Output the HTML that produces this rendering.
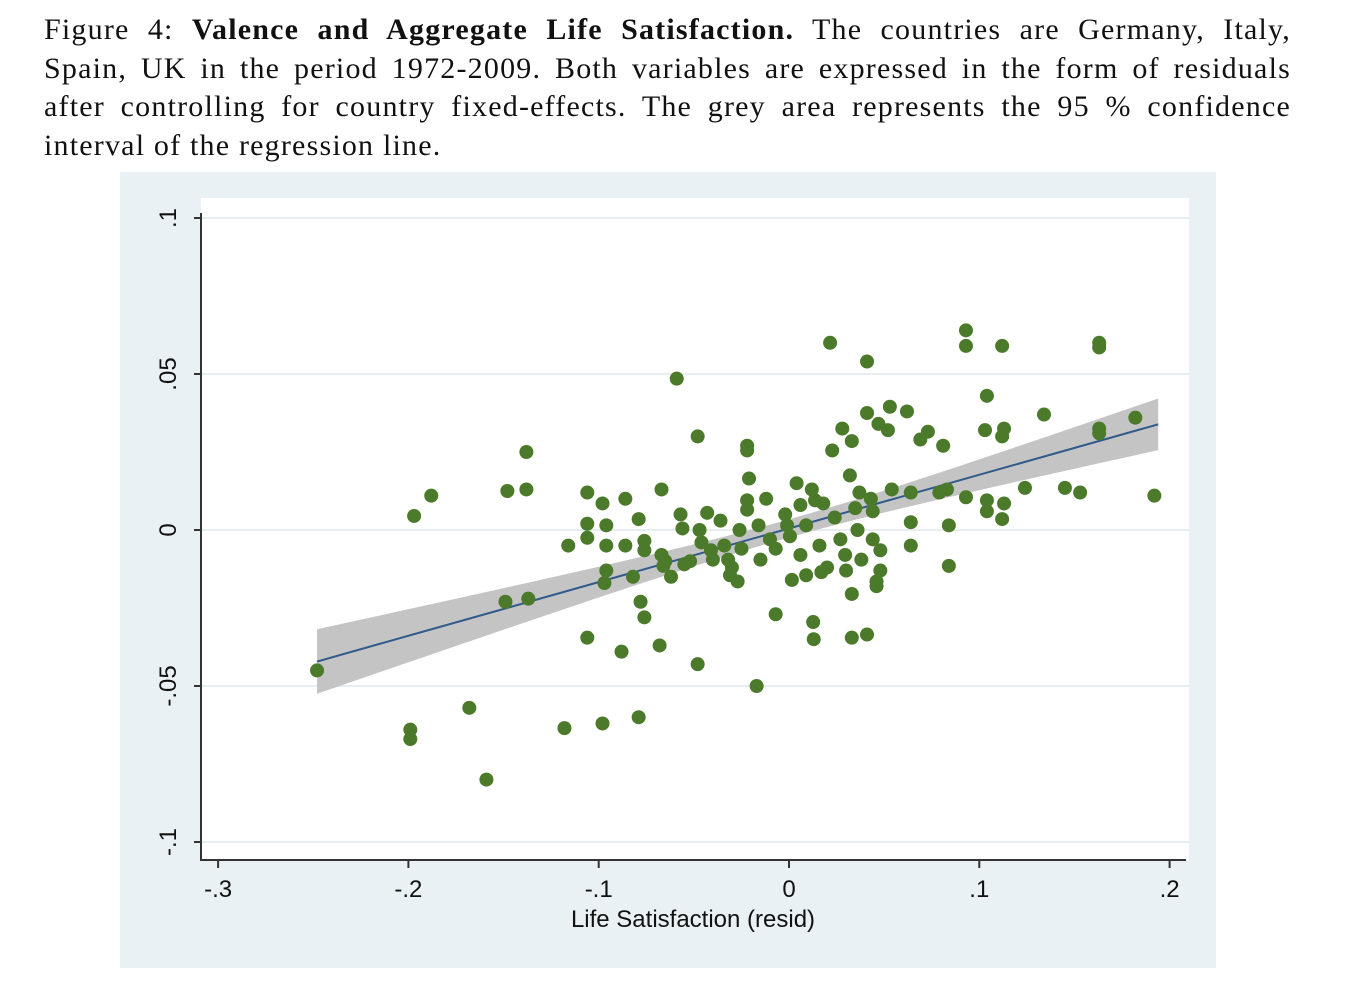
<!DOCTYPE html>
<html><head><meta charset="utf-8"><style>
body{margin:0;width:1372px;height:986px;background:#fff;overflow:hidden;font-family:"Liberation Serif",serif}
#cap{position:absolute;left:44px;top:11px;width:1247px;font-size:30px;line-height:38.5px;color:#111;letter-spacing:1.2px}
#cap div{text-align:justify;text-align-last:justify;white-space:nowrap}
#cap div.last{text-align-last:left}
svg{position:absolute;left:0;top:0}
</style></head><body>
<div id="cap">
<div>Figure 4: <b>Valence and Aggregate Life Satisfaction.</b> The countries are Germany, Italy,</div>
<div>Spain, UK in the period 1972-2009. Both variables are expressed in the form of residuals</div>
<div>after controlling for country fixed-effects. The grey area represents the 95 % confidence</div>
<div class="last">interval of the regression line.</div>
</div>
<svg id="chart" width="1372" height="986">
<rect x="120" y="172" width="1096" height="796" fill="#eaf1f4"/>
<rect x="201" y="198" width="988" height="662" fill="#fff"/>
<g id="grid"></g><g id="band"></g><g id="pts"></g><g id="axes"></g>
<text x="693" y="927" text-anchor="middle" font-family="Liberation Sans, sans-serif" font-size="24" fill="#111">Life Satisfaction (resid)</text>
</svg>
<script>
const xTicks=[-0.3,-0.2,-0.1,0,0.1,0.2];
const xTickLabels=["-.3","-.2","-.1","0",".1",".2"];
const yTicks=[-0.1,-0.05,0,0.05,0.1];
const yTickLabels=["-.1","-.05","0",".05",".1"];
const xVals=[-0.248,-0.197,-0.188,-0.199,-0.199,-0.168,-0.159,-0.148,-0.138,-0.138,-0.149,-0.137,-0.118,-0.116,-0.106,-0.106,-0.106,-0.106,-0.098,-0.096,-0.096,-0.096,-0.097,-0.098,-0.088,-0.086,-0.086,-0.082,-0.079,-0.076,-0.076,-0.078,-0.076,-0.079,-0.068,-0.067,-0.067,-0.066,-0.062,-0.059,-0.057,-0.056,-0.055,-0.048,-0.048,-0.047,-0.046,-0.043,-0.041,-0.040,-0.036,-0.034,-0.032,-0.031,-0.027,-0.026,-0.025,-0.022,-0.022,-0.021,-0.022,-0.022,-0.017,-0.016,-0.015,-0.012,-0.010,-0.007,-0.007,-0.002,-0.001,0.0005,0.0015,0.004,0.006,0.006,0.009,0.009,0.012,0.0137,0.0127,0.013,0.016,0.017,0.018,0.0216,0.0227,0.024,0.027,0.028,0.0295,0.030,0.032,0.033,0.033,0.033,0.0348,0.036,0.037,0.038,0.041,0.041,0.041,0.043,0.044,0.044,0.046,0.047,0.048,0.048,0.052,0.053,0.054,0.062,0.064,0.064,0.064,0.069,0.073,0.079,0.081,0.083,0.084,0.084,0.093,0.093,0.093,0.104,0.103,0.104,0.104,0.112,0.113,0.112,0.113,0.112,0.124,0.134,0.145,0.153,0.163,0.163,0.163,0.163,0.182,0.192,-0.065,-0.052,-0.030,0.020,0.046];
const yVals=[-0.045,0.0045,0.011,-0.064,-0.067,-0.057,-0.080,0.0125,0.013,0.025,-0.023,-0.022,-0.0635,-0.005,0.012,0.002,-0.0025,-0.0345,0.0085,0.0015,-0.005,-0.013,-0.017,-0.062,-0.039,0.010,-0.005,-0.015,0.0035,-0.0035,-0.0065,-0.023,-0.028,-0.060,-0.037,0.013,-0.008,-0.0115,-0.015,0.0485,0.005,0.0005,-0.011,0.030,-0.043,0.0,-0.004,0.0055,-0.0065,-0.0095,0.003,-0.005,-0.0095,-0.0145,-0.0165,0.0,-0.006,0.027,0.0255,0.0165,0.0095,0.0065,-0.050,0.0015,-0.0095,0.010,-0.003,-0.027,-0.006,0.005,0.0015,-0.002,-0.016,0.015,0.008,-0.008,0.0015,-0.0145,0.013,0.0095,-0.0295,-0.035,-0.005,-0.0135,0.0085,0.060,0.0255,0.004,-0.003,0.0325,-0.008,-0.013,0.0175,0.0285,-0.0205,-0.0345,0.007,0.0,0.012,-0.0095,0.054,0.0375,-0.0335,0.010,0.006,-0.003,-0.0165,0.034,-0.0065,-0.013,0.032,0.0395,0.013,0.038,0.012,0.0025,-0.005,0.029,0.0315,0.012,0.027,0.013,0.0015,-0.0115,0.064,0.059,0.0105,0.043,0.032,0.0095,0.006,0.059,0.0325,0.030,0.0085,0.0035,0.0135,0.037,0.0135,0.012,0.060,0.0585,0.0325,0.031,0.036,0.011,-0.010,-0.010,-0.012,-0.012,-0.018];
const fitSlope=0.172, fitIntercept=0.0005, ciA=0.0029, ciB=0.040, fitRange=[-0.248,0.194];
const X=v=>789+(v)*1903, Y=v=>530-v*3120;
const NS="http://www.w3.org/2000/svg";
function mk(t,a,p){const e=document.createElementNS(NS,t);for(const k in a)e.setAttribute(k,a[k]);p.appendChild(e);return e;}
const grid=document.getElementById('grid'),axes=document.getElementById('axes'),band=document.getElementById('band'),pts=document.getElementById('pts');
yTicks.forEach((t,i)=>{
 const g=mk('line',{x1:201,x2:1189,y1:Y(t),y2:Y(t),stroke:'#e6eef1','stroke-width':2},grid);
 
 
 const tk=mk('line',{x1:194,x2:201,y1:Y(t),y2:Y(t),stroke:'#333','stroke-width':2},axes);
 
 
 const tx=mk('text',{x:0,y:0,transform:`translate(176,${Y(t)}) rotate(-90)`,'text-anchor':'middle','font-family':'Liberation Sans, sans-serif','font-size':24,fill:'#111'},axes);
 tx.textContent=yTickLabels[i];
 
 
});
xTicks.forEach((t,i)=>{
 const tk=mk('line',{x1:X(t),x2:X(t),y1:860,y2:868,stroke:'#333','stroke-width':2},axes);
 
 
 const tx=mk('text',{x:X(t),y:897,'text-anchor':'middle','font-family':'Liberation Sans, sans-serif','font-size':24,fill:'#111'},axes);
 tx.textContent=xTickLabels[i];
 
 
});
const ya=mk('line',{x1:201,x2:201,y1:213,y2:861,stroke:'#333','stroke-width':2},axes);


const xa=mk('line',{x1:200,x2:1186,y1:860,y2:860,stroke:'#333','stroke-width':2},axes);


let up=[],lo=[];
for(let k=0;k<=40;k++){const x=fitRange[0]+(fitRange[1]-fitRange[0])*k/40;const f=fitIntercept+fitSlope*x;const s=Math.sqrt(ciA*ciA+ciB*ciB*x*x);up.push(X(x)+','+Y(f+s));lo.unshift(X(x)+','+Y(f-s));}
const poly=mk('polygon',{points:up.concat(lo).join(' '),fill:'#c4c4c4'},band);


xVals.forEach((x,i)=>{
 const c=mk('circle',{cx:X(x),cy:Y(yVals[i]),r:7,fill:'#4b7a2a'},pts);
 
 
});
const fl=mk('line',{x1:X(fitRange[0]),y1:Y(fitIntercept+fitSlope*fitRange[0]),x2:X(fitRange[1]),y2:Y(fitIntercept+fitSlope*fitRange[1]),stroke:'#2f5a8a','stroke-width':2},band);


</script>
</body></html>
